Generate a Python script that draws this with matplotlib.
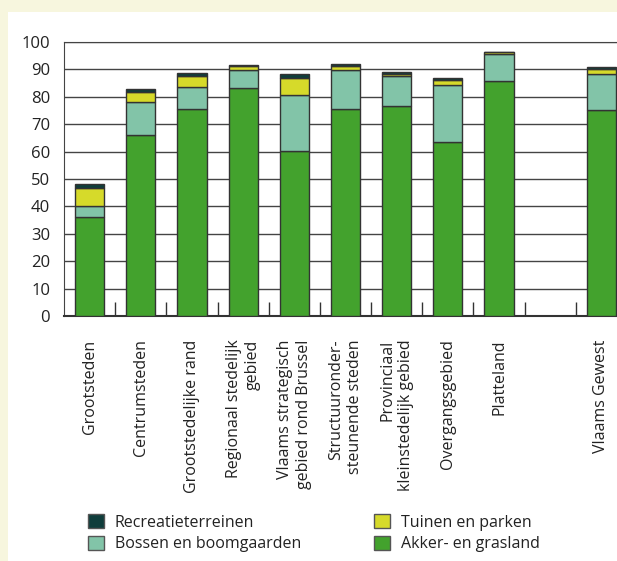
import numpy as np
import matplotlib
matplotlib.use("Agg")
import matplotlib.pyplot as plt
from matplotlib.patches import Rectangle, Patch

plt.rcParams['font.family'] = ['Open Sans', 'DejaVu Sans']

categorieen = ["Grootsteden", "Centrumsteden", "Grootstedelijke rand",
               "Regionaal stedelijk\ngebied", "Vlaams strategisch\ngebied rond Brussel",
               "Structuuronder-\nsteunende steden", "Provinciaal\nkleinstedelijk gebied",
               "Overgangsgebied", "Platteland", "Vlaams Gewest"]
akker = [36.0, 66.0, 75.5, 83.3, 60.2, 75.7, 76.6, 63.4, 85.8, 75.3]
bossen = [4.3, 12.0, 7.9, 6.5, 20.5, 14.0, 10.9, 20.9, 9.7, 13.1]
tuinen = [6.5, 3.6, 4.3, 1.6, 6.3, 1.4, 0.9, 1.9, 0.7, 1.9]
recreatie = [1.2, 1.4, 1.0, 0.3, 1.4, 1.0, 0.8, 0.8, 0.1, 0.7]

kleuren = {"akker": "#43a22d", "bossen": "#82c4a8", "tuinen": "#d6da2a", "recreatie": "#0f3d3b"}
CREME = "#f7f6de"

fig = plt.figure(figsize=(6.17, 5.61), dpi=100, facecolor=CREME)
fig.patches.append(Rectangle((8 / 617, 0), 1, 1 - 12 / 561, transform=fig.transFigure,
                             facecolor="white", edgecolor="none", zorder=-5))

ax = fig.add_axes([64 / 617, 1 - 316 / 561, (627 - 64) / 617, (316 - 42) / 561])
ax.set_zorder(2)
ax.set_facecolor("white")

# lege plek tussen Platteland en Vlaams Gewest
x = np.arange(len(categorieen)).astype(float)
x[-1] += 1

onder = np.zeros(len(categorieen))
for naam, waarden in [("akker", akker), ("bossen", bossen), ("tuinen", tuinen), ("recreatie", recreatie)]:
    ax.bar(x, waarden, bottom=onder, width=0.57, color=kleuren[naam],
           edgecolor="#333333", linewidth=1.0, zorder=3)
    onder += np.array(waarden)

ax.set_xlim(-0.5, 10.5)
ax.set_ylim(0, 100)
ax.set_yticks(range(0, 101, 10))
ax.yaxis.grid(True, color="#444444", linewidth=1.0, zorder=0)
ax.set_axisbelow(True)
ax.tick_params(axis="y", length=0, pad=10, labelsize=12, colors="#222222")

ax.set_xticks(x)
ax.set_xticklabels(categorieen, rotation=90, ha="center", va="top", multialignment="right",
                   fontsize=11.5, color="#222222")
ax.tick_params(axis="x", which="major", length=0, pad=17)
ax.set_xticks(np.arange(0.5, 10, 1.0), minor=True)
ax.tick_params(axis="x", which="minor", direction="in", length=10, width=1.0, color="#333333")

ax.spines["right"].set_visible(False)
ax.spines["top"].set_color("#444444")
ax.spines["left"].set_color("#444444")
ax.spines["bottom"].set_color("#333333")
ax.spines["bottom"].set_linewidth(1.5)

handles = [Patch(facecolor=kleuren["recreatie"], edgecolor="#555555", label="Recreatieterreinen"),
           Patch(facecolor=kleuren["bossen"], edgecolor="#555555", label="Bossen en boomgaarden"),
           Patch(facecolor=kleuren["tuinen"], edgecolor="#555555", label="Tuinen en parken"),
           Patch(facecolor=kleuren["akker"], edgecolor="#555555", label="Akker- en grasland")]
fig.legend(handles=handles, ncol=2, loc="upper left", bbox_to_anchor=(74 / 617, 1 - 500 / 561),
           frameon=False, fontsize=11.5, handlelength=0.95, handleheight=0.95, handletextpad=0.7,
           columnspacing=4.6, labelspacing=0.32, labelcolor="#222222")

fig.savefig("out.png", dpi=100, facecolor=CREME)
